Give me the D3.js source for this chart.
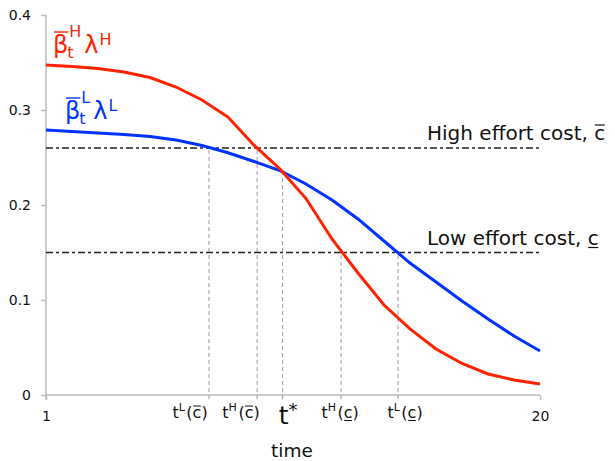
<!DOCTYPE html>
<html><head><meta charset="utf-8">
<script src="https://cdn.jsdelivr.net/npm/d3@7"></script>
<style>body{margin:0;background:#fff}text{font-family:"DejaVu Sans",sans-serif}</style>
</head><body><svg id="c" width="615" height="461"></svg>
<script>
// ---- data ----
const times = d3.range(1, 21);
const highValues = [0.3474,0.3458,0.3437,0.3400,0.3342,0.3242,0.3105,0.2926,0.2630,0.2379,0.2068,0.1642,0.1284,0.0947,0.0695,0.0484,0.0332,0.0221,0.0158,0.0116];
const lowValues  = [0.2789,0.2774,0.2758,0.2742,0.2721,0.2684,0.2627,0.2550,0.2458,0.2361,0.2221,0.2053,0.1853,0.1621,0.1389,0.1189,0.0989,0.0800,0.0621,0.0463];
const costLevels = [0.26, 0.15];
const costLabels = ["High effort cost,\u00a0", "Low effort cost,\u00a0"];
const markerT     = [7.27, 9.12, 10.1, 12.35, 14.54];
const markerY     = [0.26, 0.26, 0.236, 0.15, 0.15];
const markerLabT  = [6.54, 8.5, 10.31, 12.31, 14.81];
const markerSup   = ["L", "H", null, "H", "L"];
const markerCost  = ["over", "over", null, "under", "under"];
const yTicks = [0, 0.1, 0.2, 0.3, 0.4];
const xTicks = [1, 20];

const RED = "#ff2200", BLUE = "#0033ff";
const svg = d3.select("#c");
const x = d3.scaleLinear().domain([1, 20]).range([46, 540]);
const y = d3.scaleLinear().domain([0, 0.4]).range([395, 15]);
const AX = "#bdbdbd";
const FONT = "DejaVu Sans";

// axes
const ya = svg.append("g").attr("transform", "translate(46,0)")
  .call(d3.axisLeft(y).tickValues(yTicks).tickSize(5).tickPadding(10).tickFormat(d => d === 0 ? "0" : d3.format(".1f")(d)));
const xa = svg.append("g").attr("transform", "translate(0,395)")
  .call(d3.axisBottom(x).tickValues(xTicks).tickSize(5).tickPadding(11).tickFormat(d3.format("d")));
[ya, xa].forEach(g => {
  g.select(".domain").attr("stroke", AX).attr("stroke-width", 1.5);
  g.selectAll(".tick line").attr("stroke", AX).attr("stroke-width", 1.5);
  g.selectAll(".tick text").attr("font-size", 14).attr("fill", "#111").attr("font-family", FONT);
});
ya.select(".domain").attr("d", "M0,15V400");
xa.select(".domain").attr("d", "M46,0H540");

// cost lines
svg.selectAll(".cost").data(costLevels).join("line")
  .attr("x1", x(1)).attr("x2", x(20)).attr("y1", d => y(d)).attr("y2", d => y(d))
  .attr("stroke", "#222").attr("stroke-width", 1.4).attr("stroke-dasharray", "7,3,3,3");

// vertical marker lines
svg.selectAll(".mk").data(markerT).join("line")
  .attr("x1", d => x(d)).attr("x2", d => x(d))
  .attr("y1", 399).attr("y2", (d, i) => y(markerY[i]))
  .attr("stroke", "#9a9a9a").attr("stroke-width", 1).attr("stroke-dasharray", "4,3");

// curves
const line = d3.line().x((d, i) => x(times[i])).y(d => y(d));
svg.append("path").datum(lowValues).attr("d", line).attr("fill", "none").attr("stroke", BLUE).attr("stroke-width", 3);
svg.append("path").datum(highValues).attr("d", line).attr("fill", "none").attr("stroke", RED).attr("stroke-width", 3);

// marker labels (built from parts, overline/underline drawn as small rules)
markerT.forEach((t, i) => {
  const cx = x(markerLabT[i]);
  const g = svg.append("g").attr("fill", "#111");
  if (markerSup[i] === null) {
    const tx = g.append("text").attr("y", 424).attr("font-size", 25);
    tx.append("tspan").text("t");
    tx.append("tspan").text("*").attr("dy", -8).attr("font-size", 18);
    const w = tx.node().getComputedTextLength();
    tx.attr("x", cx - w / 2);
    return;
  }
  const fs = 16, base = 418;
  let cur = 0;
  const parts = [];
  const add = (txt, size, dy) => {
    const el = g.append("text").attr("y", base + dy).attr("font-size", size).text(txt);
    parts.push({el, x: cur});
    const w = el.node().getComputedTextLength();
    const x0 = cur; cur += w; return {x0, w};
  };
  add("t", fs, 0);
  add(markerSup[i], 11, -7); cur += 1.5;
  add("(", fs, 0);
  const c = add("c", fs, 0);
  add(")", fs, 0);
  const off = cx - cur / 2;
  parts.forEach(p => p.el.attr("x", off + p.x));
  const ly = markerCost[i] === "over" ? base - 12 : base + 2.5;
  g.append("line").attr("x1", off + c.x0 + 0.5).attr("x2", off + c.x0 + c.w - 0.5)
    .attr("y1", ly).attr("y2", ly).attr("stroke", "#111").attr("stroke-width", 1);
});

// axis title
svg.append("text").attr("x", 292).attr("y", 457).attr("text-anchor", "middle")
  .attr("font-size", 18.5).attr("fill", "#111").text("time");

// cost labels
costLevels.forEach((c, i) => {
  const base = y(c) - 8;
  const tx = svg.append("text").attr("x", 427).attr("y", base)
    .attr("font-size", 20).attr("fill", "#111").text(costLabels[i]);
  const full = tx.node().getComputedTextLength();
  const cEl = svg.append("text").attr("x", 427 + full).attr("y", base).attr("font-size", 20).attr("fill", "#111").text("c");
  const cw = cEl.node().getComputedTextLength();
  const ly = i === 0 ? base - 15 : base + 3;
  svg.append("line").attr("x1", 427 + full + 0.5).attr("x2", 427 + full + cw - 0.5)
    .attr("y1", ly).attr("y2", ly).attr("stroke", "#111").attr("stroke-width", 1.2);
});

// series labels
function seriesLabel(x0, y0, sup, color) {
  const g = svg.append("g").attr("fill", color);
  const b = g.append("text").attr("x", x0).attr("y", y0).attr("font-size", 24).text("β");
  const bw = b.node().getComputedTextLength();
  g.append("line").attr("x1", x0 + 1).attr("x2", x0 + bw).attr("y1", y0 - 21).attr("y2", y0 - 21)
    .attr("stroke", color).attr("stroke-width", 1.4);
  const s1 = g.append("text").attr("x", x0 + bw + 1).attr("y", y0 - 16).attr("font-size", 16).text(sup);
  const s2 = g.append("text").attr("x", x0 + bw - 1).attr("y", y0 + 5).attr("font-size", 16).text("t");
  const w = Math.max(s1.node().getComputedTextLength() + 1, s2.node().getComputedTextLength() - 1);
  const l = g.append("text").attr("x", x0 + bw + w + 3).attr("y", y0).attr("font-size", 24).text("λ");
  const lw = l.node().getComputedTextLength();
  g.append("text").attr("x", x0 + bw + w + 3 + lw + 1).attr("y", y0 - 8).attr("font-size", 16).text(sup);
}
seriesLabel(53, 53, "H", RED);
seriesLabel(65, 119, "L", BLUE);
</script></body></html>
